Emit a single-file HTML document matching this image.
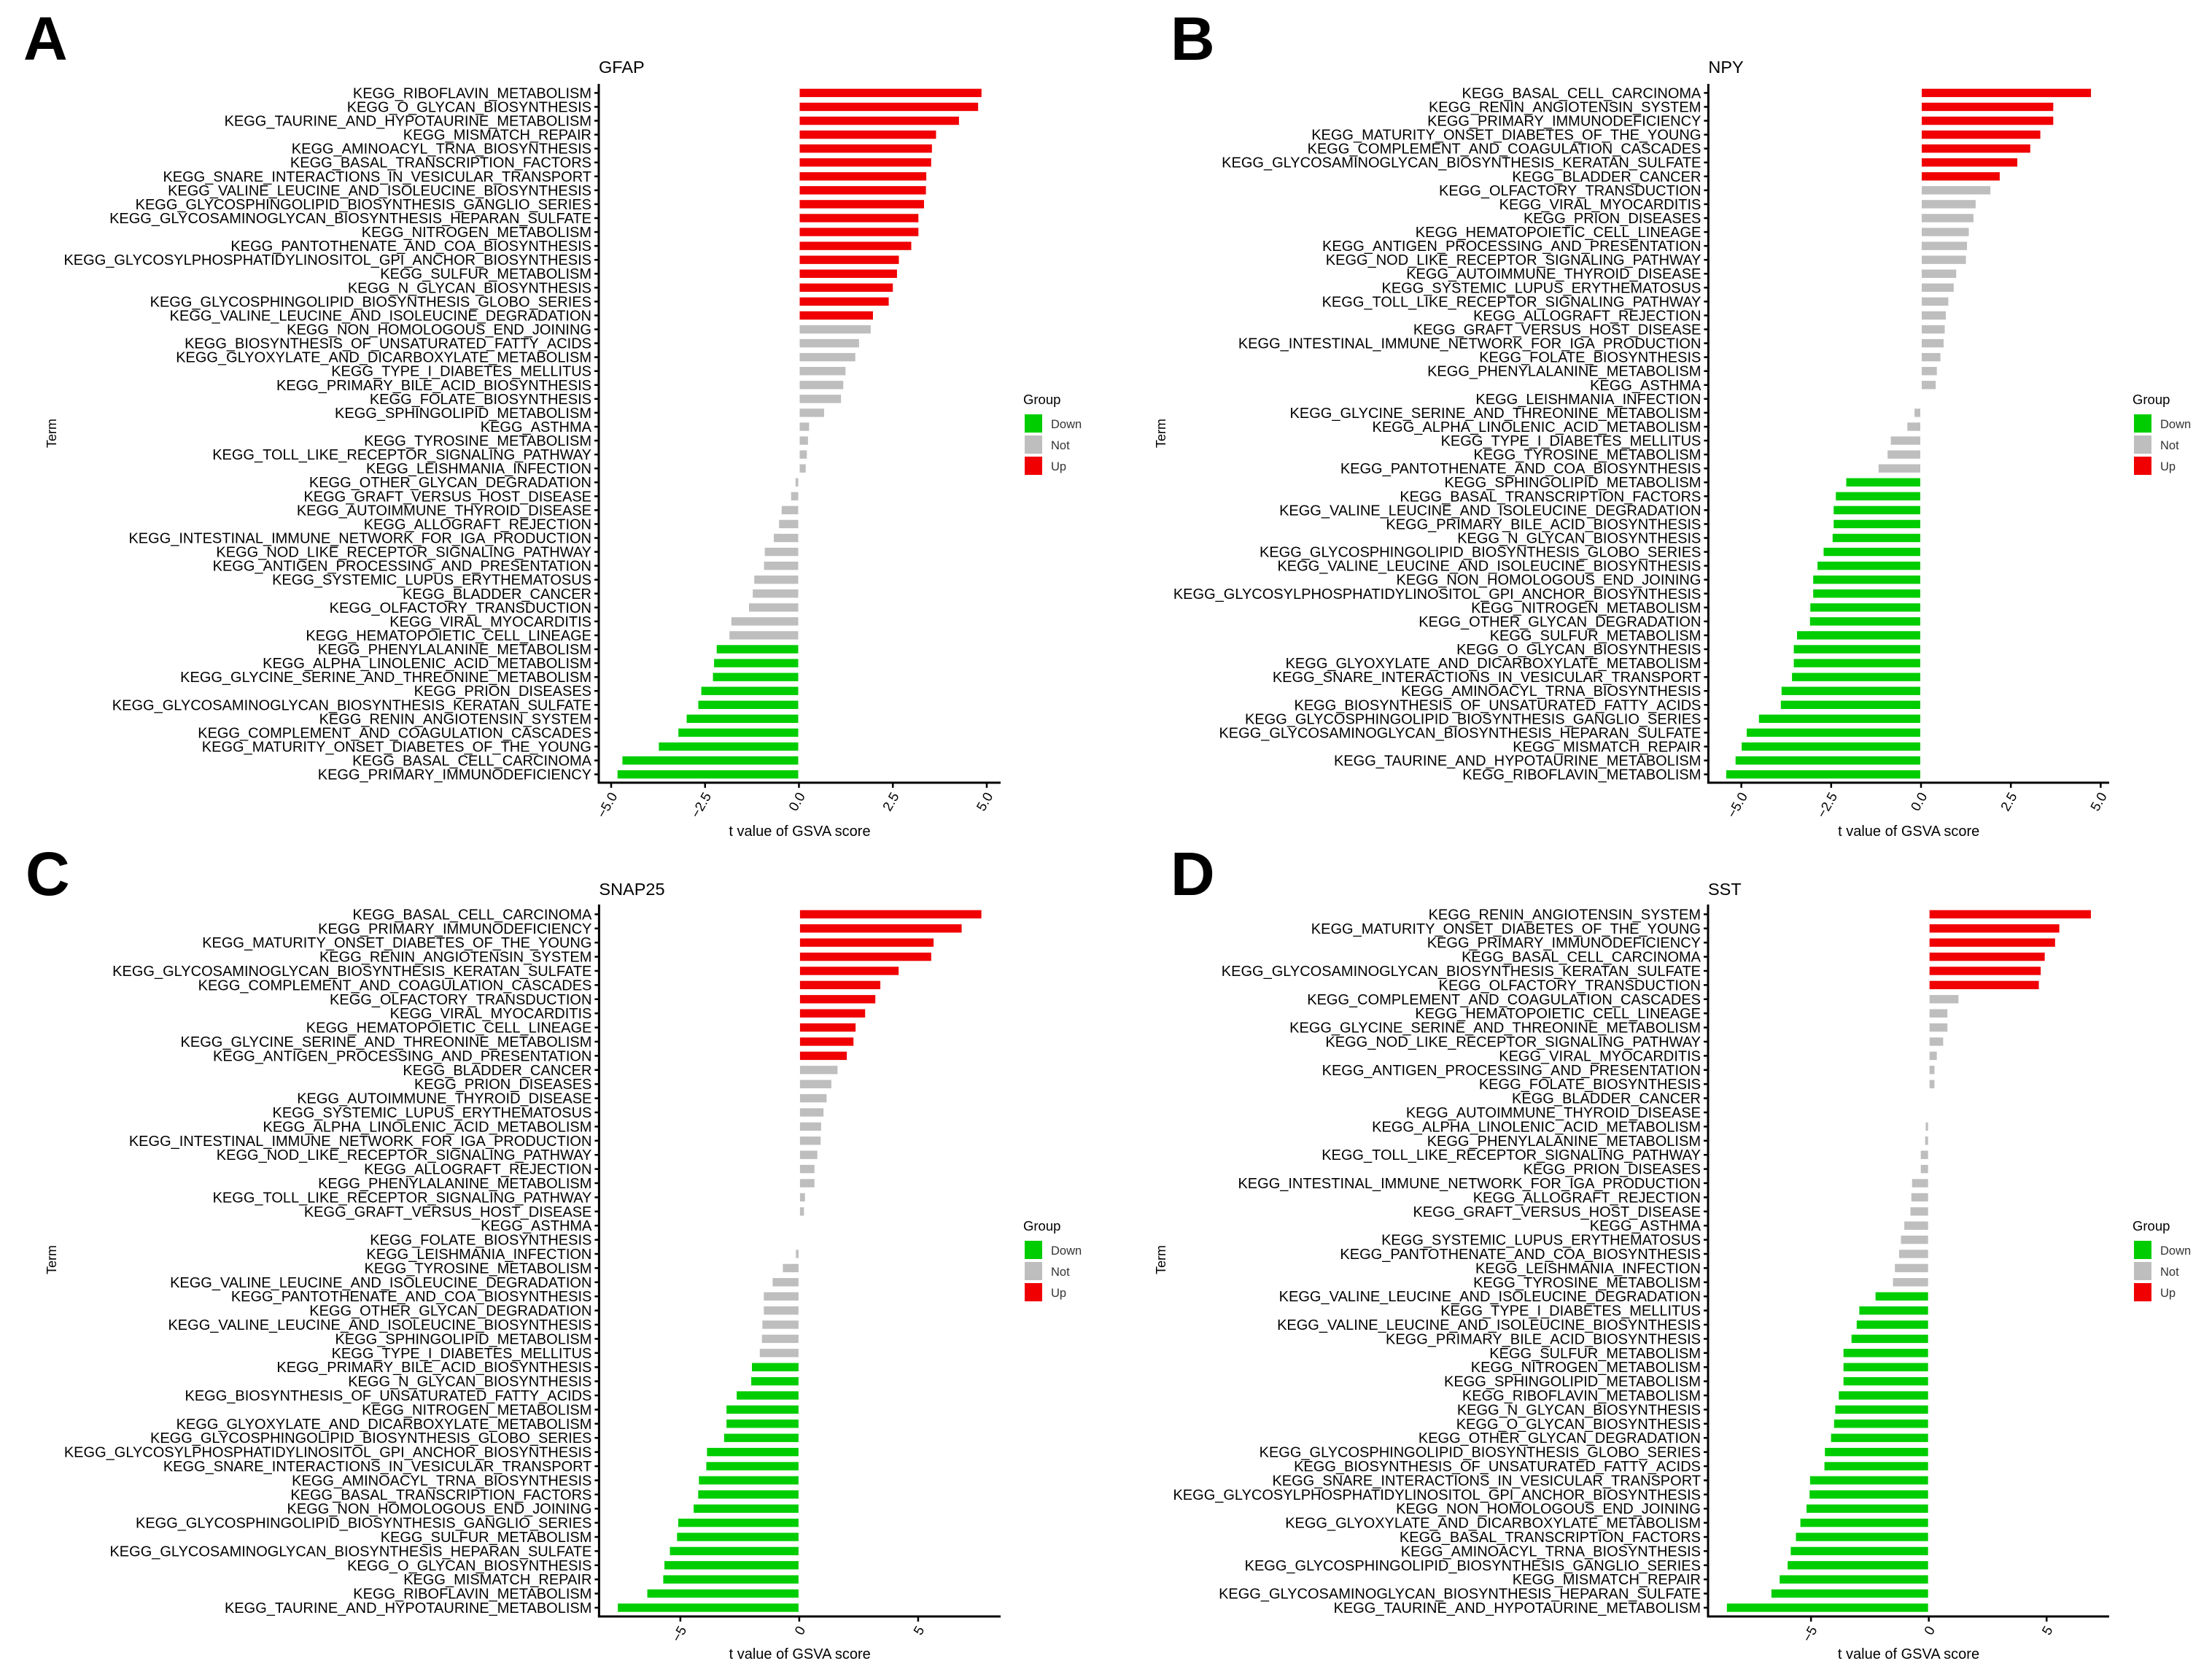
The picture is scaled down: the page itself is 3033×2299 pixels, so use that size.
<!DOCTYPE html>
<html lang="en">
<head>
<meta charset="utf-8">
<title>GSVA t values for GFAP, NPY, SNAP25 and SST</title>
<style>
html,body{margin:0;padding:0;background:#fff}
svg{display:block}
text{font-family:"Liberation Sans",Arial,sans-serif;fill:#000}
</style>
</head>
<body>
<svg id="figure" xmlns="http://www.w3.org/2000/svg" width="3033" height="2299" viewBox="0 0 3033 2299">
<rect x="0" y="0" width="3033" height="2299" fill="#fff"/>
<text x="32" y="82" font-size="84" font-weight="700">A</text>
<text x="1605" y="82" font-size="84" font-weight="700">B</text>
<text x="35" y="1227" font-size="84" font-weight="700">C</text>
<text x="1605" y="1227" font-size="84" font-weight="700">D</text>
</svg>
<script>
const gfapTerms = ["KEGG_RIBOFLAVIN_METABOLISM","KEGG_O_GLYCAN_BIOSYNTHESIS","KEGG_TAURINE_AND_HYPOTAURINE_METABOLISM","KEGG_MISMATCH_REPAIR","KEGG_AMINOACYL_TRNA_BIOSYNTHESIS","KEGG_BASAL_TRANSCRIPTION_FACTORS","KEGG_SNARE_INTERACTIONS_IN_VESICULAR_TRANSPORT","KEGG_VALINE_LEUCINE_AND_ISOLEUCINE_BIOSYNTHESIS","KEGG_GLYCOSPHINGOLIPID_BIOSYNTHESIS_GANGLIO_SERIES","KEGG_GLYCOSAMINOGLYCAN_BIOSYNTHESIS_HEPARAN_SULFATE","KEGG_NITROGEN_METABOLISM","KEGG_PANTOTHENATE_AND_COA_BIOSYNTHESIS","KEGG_GLYCOSYLPHOSPHATIDYLINOSITOL_GPI_ANCHOR_BIOSYNTHESIS","KEGG_SULFUR_METABOLISM","KEGG_N_GLYCAN_BIOSYNTHESIS","KEGG_GLYCOSPHINGOLIPID_BIOSYNTHESIS_GLOBO_SERIES","KEGG_VALINE_LEUCINE_AND_ISOLEUCINE_DEGRADATION","KEGG_NON_HOMOLOGOUS_END_JOINING","KEGG_BIOSYNTHESIS_OF_UNSATURATED_FATTY_ACIDS","KEGG_GLYOXYLATE_AND_DICARBOXYLATE_METABOLISM","KEGG_TYPE_I_DIABETES_MELLITUS","KEGG_PRIMARY_BILE_ACID_BIOSYNTHESIS","KEGG_FOLATE_BIOSYNTHESIS","KEGG_SPHINGOLIPID_METABOLISM","KEGG_ASTHMA","KEGG_TYROSINE_METABOLISM","KEGG_TOLL_LIKE_RECEPTOR_SIGNALING_PATHWAY","KEGG_LEISHMANIA_INFECTION","KEGG_OTHER_GLYCAN_DEGRADATION","KEGG_GRAFT_VERSUS_HOST_DISEASE","KEGG_AUTOIMMUNE_THYROID_DISEASE","KEGG_ALLOGRAFT_REJECTION","KEGG_INTESTINAL_IMMUNE_NETWORK_FOR_IGA_PRODUCTION","KEGG_NOD_LIKE_RECEPTOR_SIGNALING_PATHWAY","KEGG_ANTIGEN_PROCESSING_AND_PRESENTATION","KEGG_SYSTEMIC_LUPUS_ERYTHEMATOSUS","KEGG_BLADDER_CANCER","KEGG_OLFACTORY_TRANSDUCTION","KEGG_VIRAL_MYOCARDITIS","KEGG_HEMATOPOIETIC_CELL_LINEAGE","KEGG_PHENYLALANINE_METABOLISM","KEGG_ALPHA_LINOLENIC_ACID_METABOLISM","KEGG_GLYCINE_SERINE_AND_THREONINE_METABOLISM","KEGG_PRION_DISEASES","KEGG_GLYCOSAMINOGLYCAN_BIOSYNTHESIS_KERATAN_SULFATE","KEGG_RENIN_ANGIOTENSIN_SYSTEM","KEGG_COMPLEMENT_AND_COAGULATION_CASCADES","KEGG_MATURITY_ONSET_DIABETES_OF_THE_YOUNG","KEGG_BASAL_CELL_CARCINOMA","KEGG_PRIMARY_IMMUNODEFICIENCY"];
const gfapValues = [4.86,4.77,4.26,3.65,3.54,3.52,3.39,3.38,3.33,3.18,3.18,2.99,2.66,2.61,2.50,2.39,1.97,1.91,1.60,1.50,1.24,1.18,1.12,0.67,0.27,0.24,0.21,0.18,-0.09,-0.21,-0.46,-0.53,-0.67,-0.91,-0.93,-1.19,-1.23,-1.33,-1.80,-1.85,-2.19,-2.26,-2.29,-2.60,-2.68,-2.99,-3.21,-3.73,-4.70,-4.83];
const gfapGroups = ["Up","Up","Up","Up","Up","Up","Up","Up","Up","Up","Up","Up","Up","Up","Up","Up","Up","Not","Not","Not","Not","Not","Not","Not","Not","Not","Not","Not","Not","Not","Not","Not","Not","Not","Not","Not","Not","Not","Not","Not","Down","Down","Down","Down","Down","Down","Down","Down","Down","Down"];
const gfapTicks = [-5,-2.5,0,2.5,5];
const gfapTickLabels = ["\u22125.0","\u22122.5","0.0","2.5","5.0"];

const npyTerms = ["KEGG_BASAL_CELL_CARCINOMA","KEGG_RENIN_ANGIOTENSIN_SYSTEM","KEGG_PRIMARY_IMMUNODEFICIENCY","KEGG_MATURITY_ONSET_DIABETES_OF_THE_YOUNG","KEGG_COMPLEMENT_AND_COAGULATION_CASCADES","KEGG_GLYCOSAMINOGLYCAN_BIOSYNTHESIS_KERATAN_SULFATE","KEGG_BLADDER_CANCER","KEGG_OLFACTORY_TRANSDUCTION","KEGG_VIRAL_MYOCARDITIS","KEGG_PRION_DISEASES","KEGG_HEMATOPOIETIC_CELL_LINEAGE","KEGG_ANTIGEN_PROCESSING_AND_PRESENTATION","KEGG_NOD_LIKE_RECEPTOR_SIGNALING_PATHWAY","KEGG_AUTOIMMUNE_THYROID_DISEASE","KEGG_SYSTEMIC_LUPUS_ERYTHEMATOSUS","KEGG_TOLL_LIKE_RECEPTOR_SIGNALING_PATHWAY","KEGG_ALLOGRAFT_REJECTION","KEGG_GRAFT_VERSUS_HOST_DISEASE","KEGG_INTESTINAL_IMMUNE_NETWORK_FOR_IGA_PRODUCTION","KEGG_FOLATE_BIOSYNTHESIS","KEGG_PHENYLALANINE_METABOLISM","KEGG_ASTHMA","KEGG_LEISHMANIA_INFECTION","KEGG_GLYCINE_SERINE_AND_THREONINE_METABOLISM","KEGG_ALPHA_LINOLENIC_ACID_METABOLISM","KEGG_TYPE_I_DIABETES_MELLITUS","KEGG_TYROSINE_METABOLISM","KEGG_PANTOTHENATE_AND_COA_BIOSYNTHESIS","KEGG_SPHINGOLIPID_METABOLISM","KEGG_BASAL_TRANSCRIPTION_FACTORS","KEGG_VALINE_LEUCINE_AND_ISOLEUCINE_DEGRADATION","KEGG_PRIMARY_BILE_ACID_BIOSYNTHESIS","KEGG_N_GLYCAN_BIOSYNTHESIS","KEGG_GLYCOSPHINGOLIPID_BIOSYNTHESIS_GLOBO_SERIES","KEGG_VALINE_LEUCINE_AND_ISOLEUCINE_BIOSYNTHESIS","KEGG_NON_HOMOLOGOUS_END_JOINING","KEGG_GLYCOSYLPHOSPHATIDYLINOSITOL_GPI_ANCHOR_BIOSYNTHESIS","KEGG_NITROGEN_METABOLISM","KEGG_OTHER_GLYCAN_DEGRADATION","KEGG_SULFUR_METABOLISM","KEGG_O_GLYCAN_BIOSYNTHESIS","KEGG_GLYOXYLATE_AND_DICARBOXYLATE_METABOLISM","KEGG_SNARE_INTERACTIONS_IN_VESICULAR_TRANSPORT","KEGG_AMINOACYL_TRNA_BIOSYNTHESIS","KEGG_BIOSYNTHESIS_OF_UNSATURATED_FATTY_ACIDS","KEGG_GLYCOSPHINGOLIPID_BIOSYNTHESIS_GANGLIO_SERIES","KEGG_GLYCOSAMINOGLYCAN_BIOSYNTHESIS_HEPARAN_SULFATE","KEGG_MISMATCH_REPAIR","KEGG_TAURINE_AND_HYPOTAURINE_METABOLISM","KEGG_RIBOFLAVIN_METABOLISM"];
const npyValues = [4.73,3.68,3.68,3.32,3.04,2.68,2.19,1.93,1.52,1.46,1.33,1.28,1.25,0.98,0.91,0.76,0.69,0.66,0.63,0.54,0.44,0.41,0.01,-0.18,-0.38,-0.84,-0.93,-1.18,-2.08,-2.37,-2.43,-2.43,-2.46,-2.71,-2.88,-3.00,-3.00,-3.08,-3.09,-3.45,-3.54,-3.54,-3.59,-3.88,-3.90,-4.51,-4.85,-4.99,-5.16,-5.42];
const npyGroups = ["Up","Up","Up","Up","Up","Up","Up","Not","Not","Not","Not","Not","Not","Not","Not","Not","Not","Not","Not","Not","Not","Not","Not","Not","Not","Not","Not","Not","Down","Down","Down","Down","Down","Down","Down","Down","Down","Down","Down","Down","Down","Down","Down","Down","Down","Down","Down","Down","Down","Down"];
const npyTicks = [-5,-2.5,0,2.5,5];
const npyTickLabels = ["\u22125.0","\u22122.5","0.0","2.5","5.0"];

const snapTerms = ["KEGG_BASAL_CELL_CARCINOMA","KEGG_PRIMARY_IMMUNODEFICIENCY","KEGG_MATURITY_ONSET_DIABETES_OF_THE_YOUNG","KEGG_RENIN_ANGIOTENSIN_SYSTEM","KEGG_GLYCOSAMINOGLYCAN_BIOSYNTHESIS_KERATAN_SULFATE","KEGG_COMPLEMENT_AND_COAGULATION_CASCADES","KEGG_OLFACTORY_TRANSDUCTION","KEGG_VIRAL_MYOCARDITIS","KEGG_HEMATOPOIETIC_CELL_LINEAGE","KEGG_GLYCINE_SERINE_AND_THREONINE_METABOLISM","KEGG_ANTIGEN_PROCESSING_AND_PRESENTATION","KEGG_BLADDER_CANCER","KEGG_PRION_DISEASES","KEGG_AUTOIMMUNE_THYROID_DISEASE","KEGG_SYSTEMIC_LUPUS_ERYTHEMATOSUS","KEGG_ALPHA_LINOLENIC_ACID_METABOLISM","KEGG_INTESTINAL_IMMUNE_NETWORK_FOR_IGA_PRODUCTION","KEGG_NOD_LIKE_RECEPTOR_SIGNALING_PATHWAY","KEGG_ALLOGRAFT_REJECTION","KEGG_PHENYLALANINE_METABOLISM","KEGG_TOLL_LIKE_RECEPTOR_SIGNALING_PATHWAY","KEGG_GRAFT_VERSUS_HOST_DISEASE","KEGG_ASTHMA","KEGG_FOLATE_BIOSYNTHESIS","KEGG_LEISHMANIA_INFECTION","KEGG_TYROSINE_METABOLISM","KEGG_VALINE_LEUCINE_AND_ISOLEUCINE_DEGRADATION","KEGG_PANTOTHENATE_AND_COA_BIOSYNTHESIS","KEGG_OTHER_GLYCAN_DEGRADATION","KEGG_VALINE_LEUCINE_AND_ISOLEUCINE_BIOSYNTHESIS","KEGG_SPHINGOLIPID_METABOLISM","KEGG_TYPE_I_DIABETES_MELLITUS","KEGG_PRIMARY_BILE_ACID_BIOSYNTHESIS","KEGG_N_GLYCAN_BIOSYNTHESIS","KEGG_BIOSYNTHESIS_OF_UNSATURATED_FATTY_ACIDS","KEGG_NITROGEN_METABOLISM","KEGG_GLYOXYLATE_AND_DICARBOXYLATE_METABOLISM","KEGG_GLYCOSPHINGOLIPID_BIOSYNTHESIS_GLOBO_SERIES","KEGG_GLYCOSYLPHOSPHATIDYLINOSITOL_GPI_ANCHOR_BIOSYNTHESIS","KEGG_SNARE_INTERACTIONS_IN_VESICULAR_TRANSPORT","KEGG_AMINOACYL_TRNA_BIOSYNTHESIS","KEGG_BASAL_TRANSCRIPTION_FACTORS","KEGG_NON_HOMOLOGOUS_END_JOINING","KEGG_GLYCOSPHINGOLIPID_BIOSYNTHESIS_GANGLIO_SERIES","KEGG_SULFUR_METABOLISM","KEGG_GLYCOSAMINOGLYCAN_BIOSYNTHESIS_HEPARAN_SULFATE","KEGG_O_GLYCAN_BIOSYNTHESIS","KEGG_MISMATCH_REPAIR","KEGG_RIBOFLAVIN_METABOLISM","KEGG_TAURINE_AND_HYPOTAURINE_METABOLISM"];
const snapValues = [7.66,6.83,5.65,5.55,4.18,3.41,3.20,2.77,2.37,2.28,2.00,1.61,1.35,1.15,1.02,0.92,0.90,0.76,0.64,0.64,0.24,0.20,0.01,-0.03,-0.14,-0.69,-1.12,-1.49,-1.49,-1.55,-1.57,-1.66,-1.99,-2.02,-2.63,-3.06,-3.06,-3.16,-3.88,-3.91,-4.22,-4.25,-4.44,-5.09,-5.14,-5.44,-5.67,-5.72,-6.39,-7.63];
const snapGroups = ["Up","Up","Up","Up","Up","Up","Up","Up","Up","Up","Up","Not","Not","Not","Not","Not","Not","Not","Not","Not","Not","Not","Not","Not","Not","Not","Not","Not","Not","Not","Not","Not","Down","Down","Down","Down","Down","Down","Down","Down","Down","Down","Down","Down","Down","Down","Down","Down","Down","Down"];
const snapTicks = [-5,0,5];
const snapTickLabels = ["\u22125","0","5"];

const sstTerms = ["KEGG_RENIN_ANGIOTENSIN_SYSTEM","KEGG_MATURITY_ONSET_DIABETES_OF_THE_YOUNG","KEGG_PRIMARY_IMMUNODEFICIENCY","KEGG_BASAL_CELL_CARCINOMA","KEGG_GLYCOSAMINOGLYCAN_BIOSYNTHESIS_KERATAN_SULFATE","KEGG_OLFACTORY_TRANSDUCTION","KEGG_COMPLEMENT_AND_COAGULATION_CASCADES","KEGG_HEMATOPOIETIC_CELL_LINEAGE","KEGG_GLYCINE_SERINE_AND_THREONINE_METABOLISM","KEGG_NOD_LIKE_RECEPTOR_SIGNALING_PATHWAY","KEGG_VIRAL_MYOCARDITIS","KEGG_ANTIGEN_PROCESSING_AND_PRESENTATION","KEGG_FOLATE_BIOSYNTHESIS","KEGG_BLADDER_CANCER","KEGG_AUTOIMMUNE_THYROID_DISEASE","KEGG_ALPHA_LINOLENIC_ACID_METABOLISM","KEGG_PHENYLALANINE_METABOLISM","KEGG_TOLL_LIKE_RECEPTOR_SIGNALING_PATHWAY","KEGG_PRION_DISEASES","KEGG_INTESTINAL_IMMUNE_NETWORK_FOR_IGA_PRODUCTION","KEGG_ALLOGRAFT_REJECTION","KEGG_GRAFT_VERSUS_HOST_DISEASE","KEGG_ASTHMA","KEGG_SYSTEMIC_LUPUS_ERYTHEMATOSUS","KEGG_PANTOTHENATE_AND_COA_BIOSYNTHESIS","KEGG_LEISHMANIA_INFECTION","KEGG_TYROSINE_METABOLISM","KEGG_VALINE_LEUCINE_AND_ISOLEUCINE_DEGRADATION","KEGG_TYPE_I_DIABETES_MELLITUS","KEGG_VALINE_LEUCINE_AND_ISOLEUCINE_BIOSYNTHESIS","KEGG_PRIMARY_BILE_ACID_BIOSYNTHESIS","KEGG_SULFUR_METABOLISM","KEGG_NITROGEN_METABOLISM","KEGG_SPHINGOLIPID_METABOLISM","KEGG_RIBOFLAVIN_METABOLISM","KEGG_N_GLYCAN_BIOSYNTHESIS","KEGG_O_GLYCAN_BIOSYNTHESIS","KEGG_OTHER_GLYCAN_DEGRADATION","KEGG_GLYCOSPHINGOLIPID_BIOSYNTHESIS_GLOBO_SERIES","KEGG_BIOSYNTHESIS_OF_UNSATURATED_FATTY_ACIDS","KEGG_SNARE_INTERACTIONS_IN_VESICULAR_TRANSPORT","KEGG_GLYCOSYLPHOSPHATIDYLINOSITOL_GPI_ANCHOR_BIOSYNTHESIS","KEGG_NON_HOMOLOGOUS_END_JOINING","KEGG_GLYOXYLATE_AND_DICARBOXYLATE_METABOLISM","KEGG_BASAL_TRANSCRIPTION_FACTORS","KEGG_AMINOACYL_TRNA_BIOSYNTHESIS","KEGG_GLYCOSPHINGOLIPID_BIOSYNTHESIS_GANGLIO_SERIES","KEGG_MISMATCH_REPAIR","KEGG_GLYCOSAMINOGLYCAN_BIOSYNTHESIS_HEPARAN_SULFATE","KEGG_TAURINE_AND_HYPOTAURINE_METABOLISM"];
const sstValues = [6.88,5.54,5.36,4.92,4.75,4.67,1.26,0.79,0.79,0.61,0.34,0.24,0.24,0.01,0.01,-0.13,-0.155,-0.34,-0.34,-0.71,-0.74,-0.78,-1.04,-1.18,-1.26,-1.44,-1.52,-2.26,-2.95,-3.06,-3.28,-3.62,-3.62,-3.62,-3.82,-3.97,-4.02,-4.15,-4.41,-4.43,-5.04,-5.06,-5.19,-5.45,-5.64,-5.86,-5.99,-6.33,-6.68,-8.57];
const sstGroups = ["Up","Up","Up","Up","Up","Up","Not","Not","Not","Not","Not","Not","Not","Not","Not","Not","Not","Not","Not","Not","Not","Not","Not","Not","Not","Not","Not","Down","Down","Down","Down","Down","Down","Down","Down","Down","Down","Down","Down","Down","Down","Down","Down","Down","Down","Down","Down","Down","Down","Down"];
const sstTicks = [-5,0,5];
const sstTickLabels = ["\u22125","0","5"];

const legendLabels = ["Down","Not","Up"];

const groupColors = {Down:"#00cd00",Not:"#bebebe",Up:"#f00000"};
const NS = "http://www.w3.org/2000/svg";
const figure = document.getElementById("figure");

function make(parent, tag) {
  const el = document.createElementNS(NS, tag);
  parent.appendChild(el);
  return el;
}
function setAll(el, props) {
  for (const k in props) el.setAttribute(k, props[k]);
  return el;
}

function drawPanel(p) {
  const g = make(figure, "g");
  
  

  const sx = v => p.left + (v - p.domainMin) / (p.domainMax - p.domainMin) * (p.right - p.left);
  const sy = i => p.firstRow + i * (p.lastRow - p.firstRow) / (p.terms.length - 1);
  const zero = sx(0);

  const title = make(g, "text");
  
  
  setAll(title, {x: p.left, y: p.titleY, "font-size": 23.5});
  title.textContent = p.title;

  p.values.forEach((v, i) => {
    const bar = make(g, "rect");
    
    
    const edge = sx(v);
    const inner = zero + (v >= 0 ? 1 : -1);
    const w = v >= 0 ? Math.max(0, edge - inner) : Math.max(0, inner - edge);
    setAll(bar, {x: Math.min(inner, edge), y: sy(i) - 5.7, width: w, height: 11.4, fill: groupColors[p.groups[i]]});
  });

  const yAxis = make(g, "line");
  
  
  setAll(yAxis, {x1: p.left, x2: p.left, y1: p.top, y2: p.bottom + 1.5, stroke: "#000", "stroke-width": 3});

  const xAxis = make(g, "line");
  
  
  setAll(xAxis, {x1: p.left - 1.5, x2: p.right, y1: p.bottom, y2: p.bottom, stroke: "#000", "stroke-width": 3});

  p.terms.forEach((term, i) => {
    const tick = make(g, "line");
    
    
    setAll(tick, {x1: p.left - 6, x2: p.left, y1: sy(i), y2: sy(i), stroke: "#000", "stroke-width": 2.5});

    const label = make(g, "text");
    
    
    setAll(label, {x: p.left - 10, y: sy(i) + 7, "font-size": 20, "text-anchor": "end"});
    label.textContent = term;
  });

  p.ticks.forEach((t, i) => {
    const tick = make(g, "line");
    
    
    setAll(tick, {x1: sx(t), x2: sx(t), y1: p.bottom, y2: p.bottom + 7, stroke: "#000", "stroke-width": 2.5});

    const label = make(g, "text");
    
    
    const bx = sx(t) + 9;
    const by = p.bottom + 18;
    setAll(label, {x: 0, y: 0, "font-size": 18.5, "text-anchor": "end", transform: "translate(" + bx + "," + by + ") rotate(-60)"});
    label.textContent = p.tickLabels[i];
  });

  const xTitle = make(g, "text");
  
  
  setAll(xTitle, {x: (p.left + p.right) / 2, y: p.xTitleY, "font-size": 20, "text-anchor": "middle"});
  xTitle.textContent = "t value of GSVA score";

  const yTitle = make(g, "text");
  
  
  setAll(yTitle, {x: 0, y: 0, "font-size": 18, "text-anchor": "middle", transform: "translate(" + p.yTitleX + "," + p.yTitleY + ") rotate(-90)"});
  yTitle.textContent = "Term";

  const legend = make(g, "g");
  
  

  const legendTitle = make(legend, "text");
  
  
  setAll(legendTitle, {x: p.legendX - 2, y: p.legendY - 14, "font-size": 18.5});
  legendTitle.textContent = "Group";

  legendLabels.forEach((name, i) => {
    const swatch = make(legend, "rect");
    
    
    setAll(swatch, {x: p.legendX, y: p.legendY + i * 29, width: 24, height: 25, fill: groupColors[name]});

    const text = make(legend, "text");
    
    
    setAll(text, {x: p.legendX + 36, y: p.legendY + 19 + i * 29, "font-size": 16.5});
    text.style.fill = "#333";
    text.textContent = name;
  });
}

drawPanel({id:"gfap",title:"GFAP",terms:gfapTerms,values:gfapValues,groups:gfapGroups,ticks:gfapTicks,tickLabels:gfapTickLabels,
  left:821,right:1372,top:115,bottom:1073,firstRow:127.4,lastRow:1061.6,titleY:100,domainMin:-5.33,domainMax:5.369,
  xTitleY:1146,yTitleX:77,yTitleY:594,legendX:1405,legendY:568});
drawPanel({id:"npy",title:"NPY",terms:npyTerms,values:npyValues,groups:npyGroups,ticks:npyTicks,tickLabels:npyTickLabels,
  left:2342.4,right:2892,top:115,bottom:1073,firstRow:127.4,lastRow:1061.6,titleY:100,domainMin:-5.918,domainMax:5.236,
  xTitleY:1146,yTitleX:1598,yTitleY:594,legendX:2926,legendY:568});
drawPanel({id:"snap25",title:"SNAP25",terms:snapTerms,values:snapValues,groups:snapGroups,ticks:snapTicks,tickLabels:snapTickLabels,
  left:821.4,right:1372,top:1240,bottom:2216,firstRow:1253.4,lastRow:2204,titleY:1227,domainMin:-8.42,domainMax:8.469,
  xTitleY:2274,yTitleX:77,yTitleY:1727,legendX:1405,legendY:1701});
drawPanel({id:"sst",title:"SST",terms:sstTerms,values:sstValues,groups:sstGroups,ticks:sstTicks,tickLabels:sstTickLabels,
  left:2342,right:2892,top:1240,bottom:2216,firstRow:1253.4,lastRow:2204,titleY:1227,domainMin:-9.37,domainMax:7.656,
  xTitleY:2274,yTitleX:1598,yTitleY:1727,legendX:2926,legendY:1701});
</script>
</body>
</html>
